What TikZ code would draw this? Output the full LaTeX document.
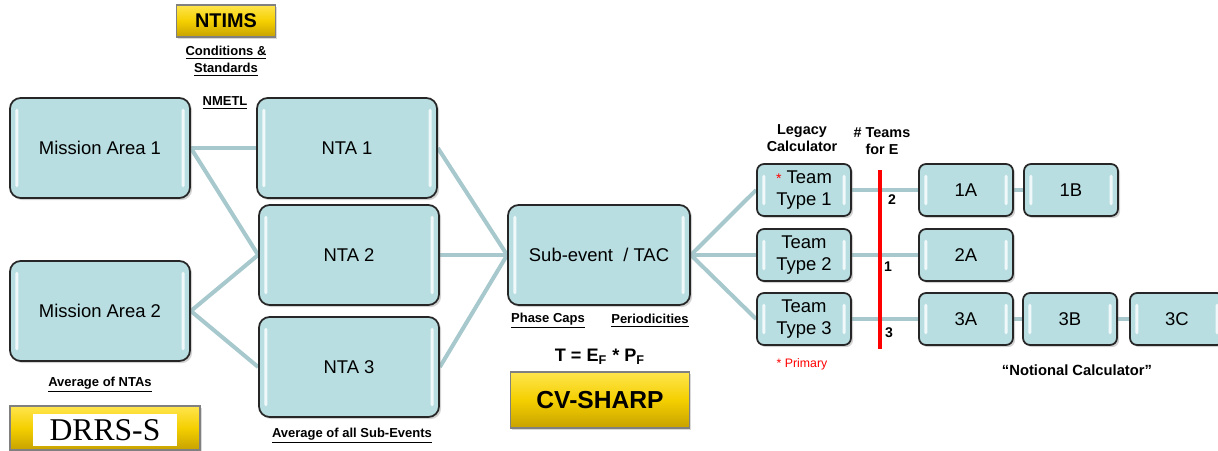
\documentclass[tikz,border=0pt]{standalone}
\usepackage{fontspec}
\setmainfont{Liberation Sans}
\newfontfamily\drrsfont{Liberation Serif}
\usetikzlibrary{shadows,backgrounds}

\definecolor{boxfill}{HTML}{B9DEE1}
\definecolor{linkcol}{HTML}{A7C9CD}
\definecolor{goldtop}{HTML}{FFE54D}
\definecolor{goldmid}{HTML}{F4CF00}
\definecolor{goldbot}{HTML}{C7A200}

\tikzset{
  block/.style={rectangle, rounded corners=6pt, draw=black!85, line width=1pt, fill=boxfill,
    minimum width=3.6cm, minimum height=2cm, align=center,
    font=\fontsize{10.5}{12.6}\selectfont,
    drop shadow={shadow xshift=1.2pt, shadow yshift=-1.2pt, opacity=0.35},
    path picture={
      \fill[white, opacity=0.8, rounded corners=1pt]
        ([xshift=3pt,yshift=-6pt]path picture bounding box.north west) rectangle
        ([xshift=4.8pt,yshift=6pt]path picture bounding box.south west);
      \fill[white, opacity=0.8, rounded corners=1pt]
        ([xshift=-4.8pt,yshift=-6pt]path picture bounding box.north east) rectangle
        ([xshift=-3pt,yshift=6pt]path picture bounding box.south east);
    }},
  smallblock/.style={block, minimum width=1.88cm, minimum height=1.04cm, rounded corners=4pt},
  link/.style={draw=linkcol, line width=2.3pt},
  goldbtn/.style={rectangle, draw=black!50, line width=0.7pt,
    top color=goldtop, bottom color=goldbot, middle color=goldmid,
    drop shadow={shadow xshift=1pt, shadow yshift=-1pt, opacity=0.3}},
  note/.style={font=\bfseries\fontsize{7.4}{9.6}\selectfont, align=center},
}

\begin{document}
\begin{tikzpicture}[x=0.02cm, y=-0.02cm]
  \useasboundingbox (0,0) rectangle (1218,450);
  % left part
  \node[goldbtn, minimum width=1.98cm, minimum height=0.64cm, font=\bfseries\fontsize{11.3}{13}\selectfont] (ntims) at (226,21) {NTIMS};
  \node[note] (conds) at (226,61) {\underline{Conditions \&}\\\underline{Standards}};
  \node[note] (nmetl) at (225,103) {\underline{NMETL}};
  \node[block] (ma1) at (100,148) {Mission Area 1};
  \node[block] (ma2) at (100,311) {Mission Area 2};
  \node[block] (nta1) at (347,148) {NTA 1};
  \node[block] (nta2) at (349,255) {NTA 2};
  \node[block] (nta3) at (349,367) {NTA 3};
  \node[note] (avgnta) at (100,385) {\underline{Average of NTAs}};
  \node[note] (avgsub) at (352,436) {\underline{Average of all Sub-Events}};
  \node[goldbtn, minimum width=3.8cm, minimum height=0.88cm] (drrs) at (105,428) {};
  \node[fill=white, minimum width=2.9cm, minimum height=0.64cm, inner sep=0pt,
    font=\drrsfont\fontsize{18}{20}\selectfont] (drrstxt) at (105,430) {DRRS-S};
  % middle
  \node[block, minimum width=3.64cm] (sub) at (599,255) {Sub-event~~/ TAC};
  \node[note] (phase) at (548,321) {\underline{Phase Caps}};
  \node[note] (period) at (650,321) {\underline{Periodicities}};
  \node[font=\bfseries\fontsize{10.3}{12}\selectfont] (formula) at (600,357) {T = E\textsubscript{F} * P\textsubscript{F}};
  \node[goldbtn, minimum width=3.58cm, minimum height=1.12cm, font=\bfseries\fontsize{14}{16}\selectfont] (cvsharp) at (600,400) {CV-SHARP};
  % right part
  \node[note, font=\bfseries\fontsize{8.2}{9.8}\selectfont] (legacy) at (802,138) {Legacy\\Calculator};
  \node[note, font=\bfseries\fontsize{8.2}{9.8}\selectfont] (teams) at (882,141) {\# Teams\\for E};
  \node[smallblock] (tt1) at (804,190) {{\color{red}\fontsize{8}{8}\selectfont *} Team\\Type 1};
  \node[smallblock] (tt2) at (804,255) {Team\\Type 2};
  \node[smallblock] (tt3) at (804,319) {Team\\Type 3};
  \node[smallblock] (c1a) at (966,190) {1A};
  \node[smallblock] (c1b) at (1071,190) {1B};
  \node[smallblock] (c2a) at (966,255) {2A};
  \node[smallblock] (c3a) at (966,319) {3A};
  \node[smallblock] (c3b) at (1070,319) {3B};
  \node[smallblock] (c3c) at (1177,319) {3C};
  \node[font=\fontsize{7}{8}\selectfont, text=red] (primary) at (802,364) {* Primary};
  \node[note, font=\bfseries\fontsize{8.4}{10}\selectfont] (notional) at (1077,370) {“Notional Calculator”};
  \coordinate (bartop) at (880,170);
  \coordinate (barbot) at (880,349);
  \node[note, font=\bfseries\fontsize{8}{9}\selectfont] (n2) at (892,200) {2};
  \node[note, font=\bfseries\fontsize{8}{9}\selectfont] (n1) at (888,267) {1};
  \node[note, font=\bfseries\fontsize{8}{9}\selectfont] (n3) at (889,333) {3};
  \begin{scope}[on background layer]
    \draw[link] (ma1.east) -- (nta1.west);
    \draw[link] (ma1.east) -- (nta2.west);
    \draw[link] (ma2.east) -- (nta2.west);
    \draw[link] (ma2.east) -- (nta3.west);
    \draw[link] (nta1.east) -- (sub.west);
    \draw[link] (nta2.east) -- (sub.west);
    \draw[link] (nta3.east) -- (sub.west);
    \draw[link] (sub.east) -- (tt1.west);
    \draw[link] (sub.east) -- (tt2.west);
    \draw[link] (sub.east) -- (tt3.west);
    \draw[link] (tt1.east) -- (c1a.west);
    \draw[link] (c1a.east) -- (c1b.west);
    \draw[link] (tt2.east) -- (c2a.west);
    \draw[link] (tt3.east) -- (c3a.west);
    \draw[link] (c3a.east) -- (c3b.west);
    \draw[link] (c3b.east) -- (c3c.west);
  \end{scope}
  \draw[red, line width=2.8pt] (bartop) -- (barbot);
\end{tikzpicture}
\end{document}
